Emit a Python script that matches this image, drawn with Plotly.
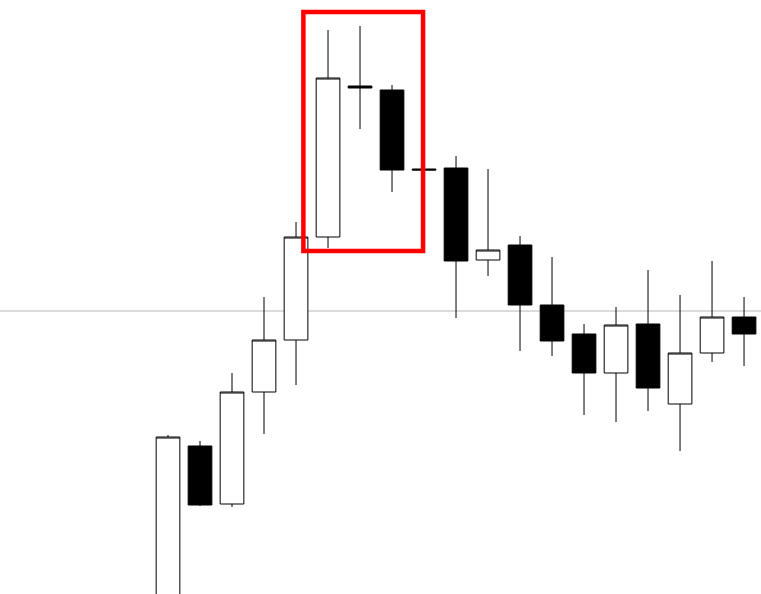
import plotly.graph_objects as go

# Candle index positions
x_idx = list(range(19))

opens  = [5.0, 25.4, 19.6, 30.8, 36.0, 46.3, 61.4, 61.0, 53.1, 53.2, 44.0, 45.5, 39.5, 36.6, 32.7, 37.6, 29.6, 34.7, 38.3]
highs  = [26.5, 25.9, 32.7, 40.3, 47.8, 67.0, 67.4, 61.5, 53.1, 54.4, 53.1, 46.4, 44.3, 37.6, 39.3, 43.0, 40.5, 43.9, 40.3]
lows   = [4.0, 19.4, 19.3, 26.6, 31.5, 45.2, 57.1, 50.8, 53.0, 38.2, 42.4, 34.9, 34.4, 28.5, 27.8, 28.9, 24.9, 33.8, 33.4]
closes = [26.3, 19.5, 30.8, 36.0, 46.3, 62.2, 61.2, 53.0, 53.0, 43.9, 45.0, 39.5, 35.9, 32.7, 37.5, 31.2, 34.7, 38.3, 36.6]

level_price = 38.9
box_x = [4.23, 7.97]
box_y = [44.9, 68.8]

fig = go.Figure()
fig.add_trace(go.Candlestick(
    x=x_idx, open=opens, high=highs, low=lows, close=closes,
    increasing=dict(line=dict(color="black", width=1), fillcolor="white"),
    decreasing=dict(line=dict(color="black", width=1), fillcolor="black"),
    whiskerwidth=0,
    hoverinfo="skip",
))

fig.add_shape(type="line", xref="paper", x0=0, x1=1, yref="y",
              y0=level_price, y1=level_price,
              line=dict(color="#b8b8b8", width=1), layer="below")
fig.add_shape(type="rect", xref="x", yref="y",
              x0=box_x[0], x1=box_x[1], y0=box_y[0], y1=box_y[1],
              line=dict(color="#ff0000", width=4.5), fillcolor="rgba(0,0,0,0)")

fig.update_layout(
    width=761, height=594,
    margin=dict(l=0, r=0, t=0, b=0),
    paper_bgcolor="white", plot_bgcolor="white",
    showlegend=False,
    boxgap=0.26, boxgroupgap=0,
    xaxis=dict(range=[-5.25, 18.53], visible=False, rangeslider=dict(visible=False)),
    yaxis=dict(range=[10.6, 70.0], visible=False),
)

fig.write_html("out.html",
               config={"displayModeBar": False},
               post_script="document.body.style.margin='0';document.body.style.overflow='hidden';")
